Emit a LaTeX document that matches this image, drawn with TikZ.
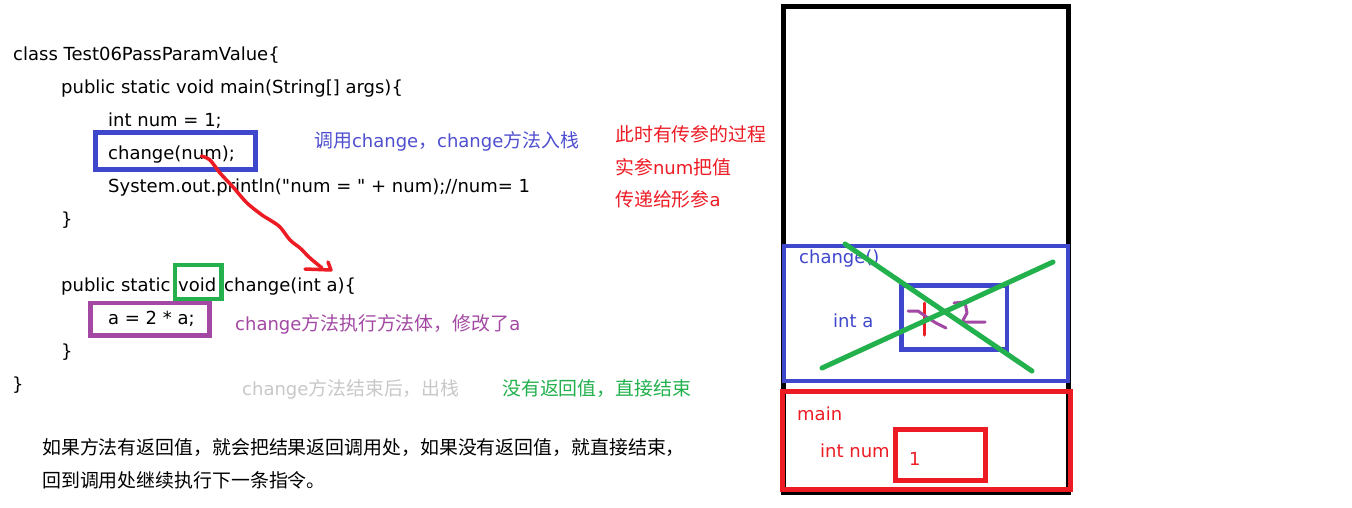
\documentclass[tikz,border=0pt]{standalone}
\usepackage{fontspec}
\setmainfont{DejaVu Sans}[Ligatures=TeXOff]
\newfontfamily\cjk[Scale=1.05]{Noto Sans CJK SC}
\definecolor{pblue}{HTML}{3F48CC}
\definecolor{tblue}{HTML}{4F4FD0}
\definecolor{pred}{HTML}{ED1C24}
\definecolor{pgreen}{HTML}{22B14C}
\definecolor{ppurple}{HTML}{A349A4}
\definecolor{pgray}{HTML}{C8C8C8}
\newcommand{\fs}{\fontsize{18}{22}\selectfont}
\tikzset{
  txt/.style={inner sep=0pt, anchor=base west, font=\fs},
  frame/.style={line width=#1, line join=miter},
  pen/.style={line width=#1, line cap=round, line join=round},
}
\begin{document}
\begin{tikzpicture}[x=1pt,y=-1pt]
\useasboundingbox[fill=white] (0,0) rectangle (1352,507);

% ---- code ----
\node[txt] (l1) at (13,60.5) {class Test06PassParamValue\{};
\node[txt] (l2) at (61,93.5) {public static void main(String[] args)\{};
\node[txt] (l3) at (108,126.5) {int num = 1;};
\node[txt] (l4) at (108,159.5) {change(num);};
\node[txt] (l5) at (108,192.5) {System.out.println("num = " + num);//num= 1};
\node[txt] (l6) at (61,225.5) {\}};
\node[txt] (l7a) at (61,291.5) {public static};
\node[txt] (l7b) at (178,291.5) {void};
\node[txt] (l7c) at (224,291.5) {change(int a)\{};
\node[txt] (l8) at (108,324.5) {a = 2 * a;};
\node[txt] (l9) at (61,357.5) {\}};
\node[txt] (l10) at (12,390.5) {\}};

% ---- code boxes ----
\draw[frame=5pt, pblue] (95,132.5) rectangle (255,169.5);
\draw[frame=4.5pt, pgreen] (175,265) rectangle (221.5,299);
\draw[frame=4.5pt, ppurple] (90.5,303) rectangle (209.5,335.5);

% ---- annotations ----
\node[txt, text=tblue] (n1) at (314,147) {{\cjk 调用}change{\cjk ，}change{\cjk 方法入栈}};
\node[txt, text=ppurple] (n2) at (235,330) {change{\cjk 方法执行方法体，修改了}a};
\node[txt, text=pgray] (n3) at (242,395) {change{\cjk 方法结束后，出栈}};
\node[txt, text=pgreen] (n4) at (502,395) {\cjk 没有返回值，直接结束};
\node[txt, text=pred] (r1) at (615,141) {\cjk 此时有传参的过程};
\node[txt, text=pred] (r2) at (615,174) {{\cjk 实参}num{\cjk 把值}};
\node[txt, text=pred] (r3) at (615,206) {{\cjk 传递给形参}a};
\node[txt] (b1) at (42,454) {\cjk 如果方法有返回值，就会把结果返回调用处，如果没有返回值，就直接结束，};
\node[txt] (b2) at (42,487) {\cjk 回到调用处继续执行下一条指令。};

% ---- red hand-drawn arrow ----
\coordinate (as) at (201.5,156);
\coordinate (ae) at (331,270);
\draw[pen=3.5pt, pred] (as) plot[smooth, tension=0.5] coordinates {(201.5,156) (210,160) (220,173) (233,187) (247,203) (262,215) (270,220) (280,227) (290,240) (300,248) (310,258) (322,268)};
\draw[pen=3.5pt, pred] (305,269) -- (ae) -- (328,262);

% ---- stack ----
\draw[frame=5pt, black] (783,6.5) rectangle (1068.5,492.5);
\draw[frame=4pt, pblue] (783.5,245.5) rectangle (1067.5,381);
\draw[frame=4.5pt, pblue] (901.5,285.5) rectangle (1007,349.5);
\draw[frame=5pt, pred] (782.5,391.5) rectangle (1070,489.5);
\draw[frame=5pt, pred] (895.5,429.5) rectangle (985.5,480.5);

\node[txt, text=pblue] (s1) at (799,263) {change()};
\node[txt, text=pblue] (s2) at (833,327) {int a};
\node[txt, text=pred] (s3) at (797,420) {main};
\node[txt, text=pred] (s4) at (820,457) {int num};
\node[txt, text=pred] (s5) at (909,465) {1};

% scribbles in int a box
\draw[pen=3pt, pred] (924,303) -- (924,335);
\draw[pen=3pt, ppurple] (908,311) -- (918,311) -- (928,318) -- (936,323) -- (946,328);
\draw[pen=3pt, ppurple] (954,303) -- (965,302) -- (967,313) -- (962,322) -- (985,322);

% green cross
\draw[pen=5pt, pgreen] (845,244) -- (1032,371);
\draw[pen=5pt, pgreen] (822,368) -- (1053,262);
\end{tikzpicture}
\end{document}
